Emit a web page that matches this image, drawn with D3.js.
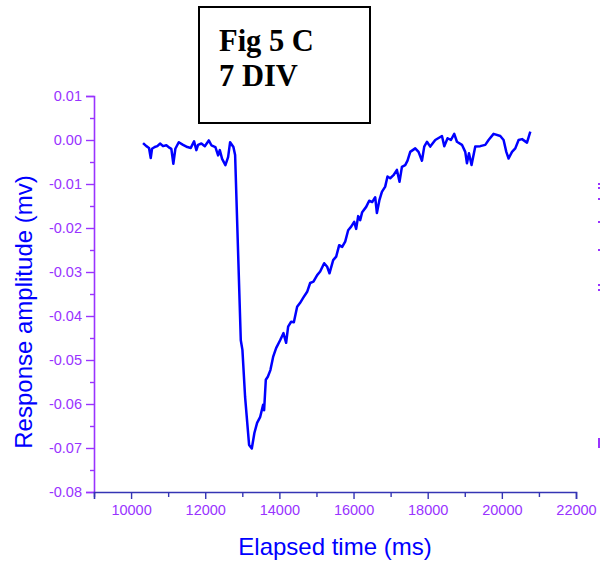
<!DOCTYPE html>
<html>
<head>
<meta charset="utf-8">
<script src="https://cdn.jsdelivr.net/npm/d3@7"></script>
<style>
  body { margin: 0; background: #fff; }
  svg { display: block; }
</style>
</head>
<body>
<svg id="chart"></svg>
<script>
// elapsed time (ms) and response (mv)
const tiempos = [10323, 10412, 10484, 10530, 10565, 10638, 10708, 10781, 10862, 10951,
  11043, 11086, 11140, 11194, 11286, 11402, 11518, 11610, 11699, 11761,
  11807, 11896, 11988, 12096, 12166, 12274, 12347, 12393, 12455, 12544,
  12617, 12671, 12760, 12806, 12959, 13003, 13075, 13183, 13256, 13326,
  13399, 13480, 13561, 13588, 13634, 13688, 13758, 13831, 13912, 14020,
  14109, 14182, 14236, 14317, 14390, 14479, 14560, 14641, 14749, 14830,
  14919, 15019, 15100, 15208, 15289, 15351, 15451, 15532, 15613, 15694,
  15775, 15855, 15936, 16017, 16071, 16125, 16179, 16233, 16341, 16422,
  16503, 16584, 16630, 16700, 16765, 16854, 16916, 16989, 17078, 17170,
  17240, 17305, 17394, 17456, 17529, 17664, 17753, 17845, 17907, 17980,
  18069, 18204, 18385, 18447, 18536, 18627, 18716, 18789, 18924, 19013,
  19059, 19113, 19183, 19283, 19418, 19553, 19642, 19777, 19958, 20047,
  20120, 20182, 20274, 20363, 20452, 20544, 20678, 20768]

const amplitudes = [-0.0007, -0.0014, -0.0018, -0.0041, -0.0020, -0.0016, -0.0014, -0.0008, -0.0014, -0.0012,
  -0.0018, -0.0020, -0.0054, -0.0020, -0.0005, -0.0011, -0.0016, -0.0018, -0.0003, -0.0023,
  -0.0011, -0.0008, -0.0014, -0.0001, -0.0012, -0.0016, -0.0035, -0.0023, -0.0043, -0.0057,
  -0.0039, -0.0005, -0.0016, -0.0034, -0.0455, -0.0477, -0.0584, -0.0693, -0.0701, -0.0666,
  -0.0643, -0.0630, -0.0602, -0.0614, -0.0545, -0.0538, -0.0523, -0.0493, -0.0473, -0.0455,
  -0.0439, -0.0461, -0.0424, -0.0413, -0.0414, -0.0379, -0.0370, -0.0359, -0.0345, -0.0325,
  -0.0322, -0.0307, -0.0299, -0.0280, -0.0288, -0.0303, -0.0273, -0.0265, -0.0239, -0.0243,
  -0.0231, -0.0205, -0.0197, -0.0186, -0.0202, -0.0173, -0.0182, -0.0164, -0.0152, -0.0138,
  -0.0141, -0.0130, -0.0166, -0.0136, -0.0118, -0.0106, -0.0083, -0.0087, -0.0080, -0.0068,
  -0.0095, -0.0061, -0.0057, -0.0047, -0.0027, -0.0019, -0.0027, -0.0047, -0.0015, -0.0004,
  -0.0015, 0.0000, 0.0009, -0.0014, 0.0004, 0.0000, 0.0014, -0.0004, -0.0011, -0.0027,
  -0.0053, -0.0030, -0.0057, -0.0015, -0.0014, -0.0011, 0.0000, 0.0014, 0.0009, 0.0000,
  -0.0027, -0.0042, -0.0027, -0.0019, 0.0000, 0.0002, -0.0006, 0.0019]

const xTicks = [10000, 12000, 14000, 16000, 18000, 20000, 22000]
const xMinor = [9000, 11000, 13000, 15000, 17000, 19000, 21000]
const yTicks = [0.01, 0.00, -0.01, -0.02, -0.03, -0.04, -0.05, -0.06, -0.07, -0.08]
const yMinor = [0.005, -0.005, -0.015, -0.025, -0.035, -0.045, -0.055, -0.065, -0.075]
const titulo = ['Fig 5 C', '7 DIV']

const anchoSVG = 600
const altoSVG = 561
const morado = '#9933ff'
const azul = '#0000ff'

let svg = d3.select('#chart')
    .attr('width', anchoSVG)
    .attr('height', altoSVG)
    .style('font-family', 'Arial, "Liberation Sans", sans-serif')

let xScale = d3.scaleLinear().domain([9000, 22000]).range([94, 576])
let yScale = d3.scaleLinear().domain([-0.08, 0.01]).range([492, 96])

// y axis (purple)
let yAxis = d3.axisLeft(yScale).tickValues(yTicks).tickSize(8).tickPadding(4)
    .tickFormat(d => d.toFixed(2))
let gy = svg.append('g').attr('transform', 'translate(94,0)').call(yAxis)
svg.append('g').attr('transform', 'translate(94,0)')
   .call(d3.axisLeft(yScale).tickValues(yMinor).tickSize(4).tickFormat(''))
   .attr('class', 'menor')

// x axis (dark blue line, purple labels)
let xAxis = d3.axisBottom(xScale).tickValues(xTicks).tickSize(7).tickPadding(6)
    .tickFormat(d3.format('d'))
let gx = svg.append('g').attr('transform', 'translate(0,492)').call(xAxis)
let gxm = svg.append('g').attr('transform', 'translate(0,492)')
   .call(d3.axisBottom(xScale).tickValues(xMinor).tickSize(5).tickFormat(''))

svg.selectAll('.domain').attr('stroke-width', 1.6)
gy.selectAll('.domain, line').attr('stroke', morado)
svg.selectAll('.menor .domain, .menor line').attr('stroke', morado)
gx.selectAll('.domain, line').attr('stroke', '#3434b4')
gxm.selectAll('.domain, line').attr('stroke', '#3434b4')
gxm.select('.domain').remove()
svg.select('.menor .domain').remove()
svg.selectAll('.tick line').attr('stroke-width', 1.4)
svg.selectAll('.tick text')
   .attr('fill', morado)
   .style('font-size', '14.5px')
   .style('font-family', 'Arial, "Liberation Sans", sans-serif')

// axis titles
svg.append('text')
   .attr('x', 335).attr('y', 555)
   .attr('text-anchor', 'middle')
   .attr('fill', azul)
   .style('font-size', '24px')
   .text('Elapsed time (ms)')

svg.append('text')
   .attr('transform', 'translate(32,312) rotate(-90)')
   .attr('text-anchor', 'middle')
   .attr('fill', azul)
   .style('font-size', '24px')
   .text('Response amplitude (mv)')

// trace
let puntos = tiempos.map((t, i) => [t, amplitudes[i]])
let linea = d3.line()
    .x(d => xScale(d[0]))
    .y(d => yScale(d[1]))

svg.append('path')
   .datum(puntos)
   .attr('d', linea)
   .attr('fill', 'none')
   .attr('stroke', azul)
   .attr('stroke-width', 2.5)
   .attr('stroke-linejoin', 'round')

// figure label box
svg.append('rect')
   .attr('x', 199).attr('y', 7)
   .attr('width', 171).attr('height', 116)
   .attr('fill', '#fff')
   .attr('stroke', '#000')
   .attr('stroke-width', 2)

svg.selectAll('.titulo')
   .data(titulo)
   .enter()
   .append('text')
   .attr('class', 'titulo')
   .attr('x', 219)
   .attr('y', (d, i) => 51 + i * 35)
   .attr('fill', '#000')
   .style('font-family', '"Liberation Serif", "Times New Roman", serif')
   .style('font-weight', 'bold')
   .style('font-size', '30.5px')
   .text(d => d)

// clipped bits of a neighbouring panel at the right edge
const restos = [183, 187, 198, 221, 249, 284, 289]
svg.selectAll('.resto')
   .data(restos)
   .enter()
   .append('rect')
   .attr('x', 598).attr('y', d => d)
   .attr('width', 2).attr('height', 2)
   .attr('fill', morado)
svg.append('rect')
   .attr('x', 598).attr('y', 438)
   .attr('width', 2).attr('height', 10)
   .attr('fill', morado)
</script>
</body>
</html>
